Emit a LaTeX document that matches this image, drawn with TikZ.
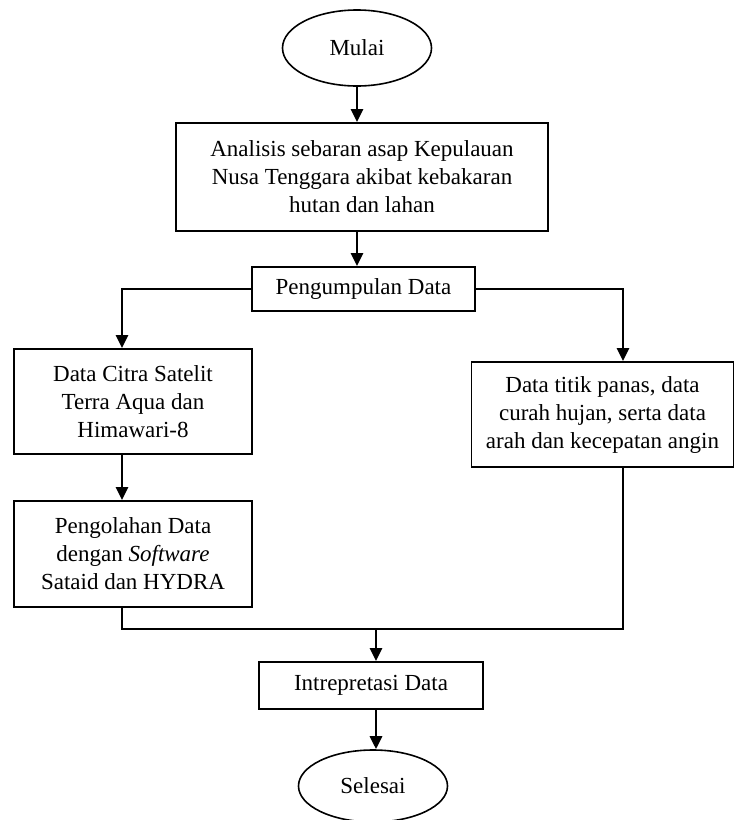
\documentclass[tikz,border=0pt]{standalone}
\usepackage{fontspec}
\setmainfont{Liberation Serif}
\usetikzlibrary{arrows.meta,shapes.geometric}
\begin{document}
\begin{tikzpicture}[x=1pt,y=-1pt,
  every node/.style={font=\fontsize{23}{28}\selectfont},
  box/.style={draw, line width=1.8pt, align=center, inner sep=0pt},
  term/.style={draw, ellipse, line width=1.6pt, inner sep=0pt},
  conn/.style={line width=2.8pt},
  arr/.style={conn, -{Triangle[length=13pt,width=12pt]}}]
\useasboundingbox (0,0) rectangle (737,820);
\node[term, minimum width=149pt, minimum height=76pt] (start) at (357,48) {Mulai};
\node[box, minimum width=372pt, minimum height=108pt] (b1) at (362,177)
  {Analisis sebaran asap Kepulauan\\Nusa Tenggara akibat kebakaran\\hutan dan lahan};
\node[box, minimum width=223pt, minimum height=44pt] (b2) at (363.5,289) {Pengumpulan Data};
\node[box, minimum width=238pt, minimum height=105pt] (b3) at (133,401.5)
  {Data Citra Satelit\\Terra Aqua dan\\Himawari-8};
\node[box, minimum width=262pt, minimum height=105pt] (b4) at (602.5,414.5)
  {Data titik panas, data\\curah hujan, serta data\\arah dan kecepatan angin};
\node[box, minimum width=238pt, minimum height=106pt] (b5) at (133,554)
  {Pengolahan Data\\dengan \textit{Software}\\Sataid dan HYDRA};
\node[box, minimum width=224pt, minimum height=47pt] (b6) at (371,685.5) {Intrepretasi Data};
\node[term, minimum width=149pt, minimum height=72pt] (end) at (373,786) {Selesai};
\coordinate (lcol) at (122,0);
\coordinate (rcol) at (623,0);
\coordinate (merge) at (376,629);
\draw[arr] (start.south) -- (start.south |- b1.north);
\draw[arr] (b1.south -| start.south) -- (start.south |- b2.north);
\draw[arr] (b2.west) -| (lcol |- b3.north);
\draw[arr] (b2.east) -| (rcol |- b4.north);
\draw[arr] (lcol |- b3.south) -- (lcol |- b5.north);
\draw[conn] (lcol |- b5.south) |- (rcol |- merge) -- (rcol |- b4.south);
\draw[arr] (merge) -- (merge |- b6.north);
\draw[arr] (merge |- b6.south) -- (merge |- end.north);
\end{tikzpicture}
\end{document}
